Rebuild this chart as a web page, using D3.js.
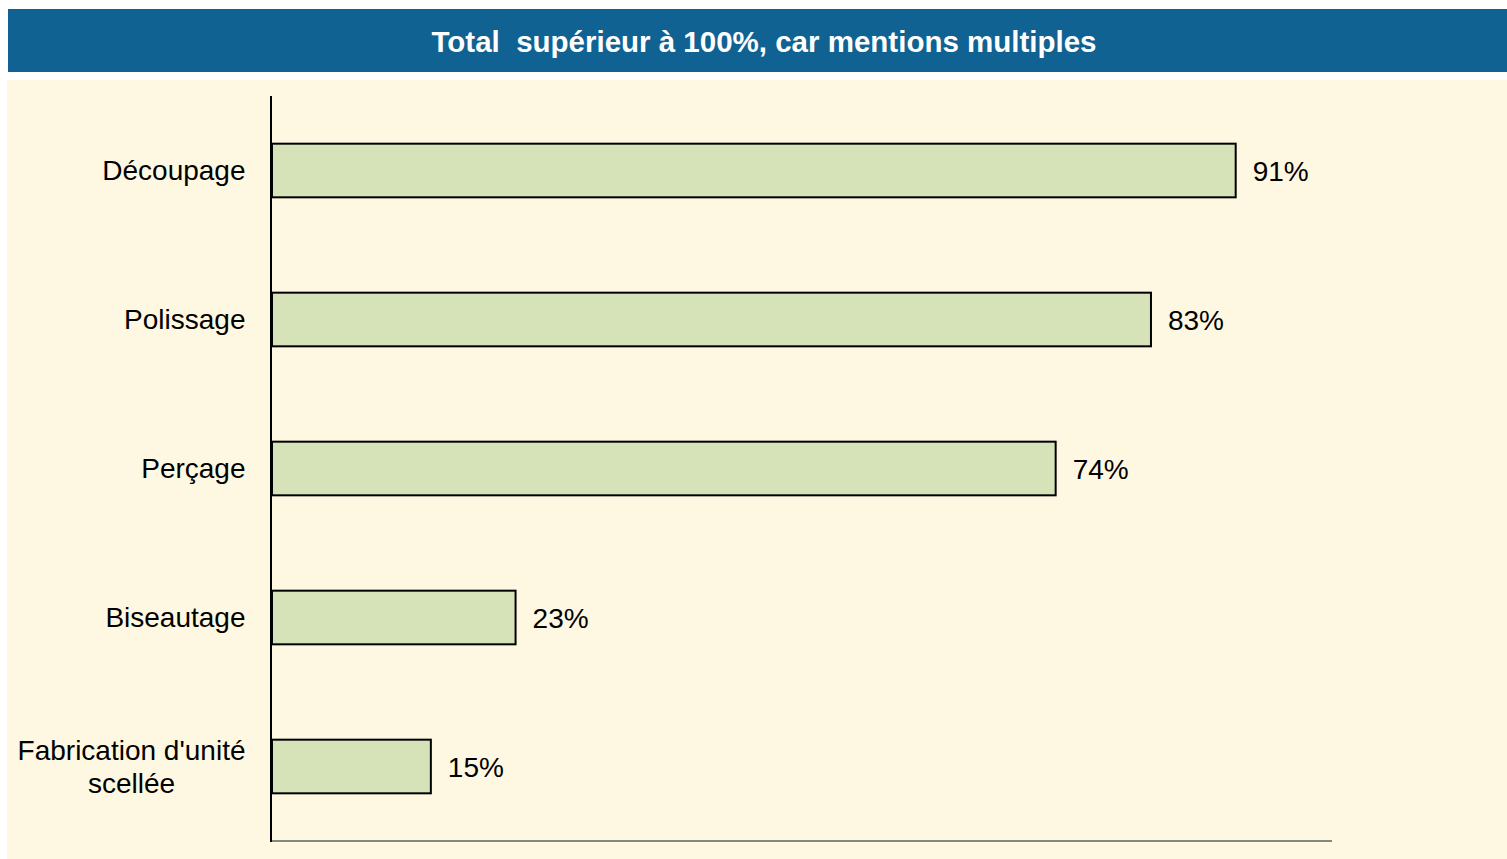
<!DOCTYPE html>
<html>
<head>
<meta http-equiv="Content-Type" content="text/html; charset=utf-8" />
<script src="https://cdn.jsdelivr.net/npm/d3@7"></script>
<title>Total supérieur à 100%</title>
<style>
  body { margin: 0; background: #ffffff; }
  text { font-family: "Liberation Sans", Arial, sans-serif; }
</style>
</head>
<body>
<svg width="1507" height="859" id="mainsvg"></svg>
<script>
  const categories = ["Découpage", "Polissage", "Perçage", "Biseautage", "Fabrication d'unité\nscellée"];
  const values = [91, 83, 74, 23, 15];
  const titleText = "Total  supérieur à 100%, car mentions multiples";

  let svg = d3.select("#mainsvg");

  // header band
  svg.append("rect").attr("x", 8).attr("y", 9).attr("width", 1499).attr("height", 63)
    .attr("fill", "#106293");
  svg.append("text").attr("x", 764).attr("y", 41)
    .attr("text-anchor", "middle").attr("dominant-baseline", "central")
    .attr("font-size", "29.5px").attr("font-weight", "bold").attr("fill", "#ffffff")
    .style("white-space", "pre")
    .text(titleText);

  // panel
  svg.append("rect").attr("x", 7).attr("y", 80).attr("width", 1500).attr("height", 779)
    .attr("fill", "#fef8e2");

  const x = d3.scaleLinear().domain([0, 100]).range([272, 1331]);
  const y = d3.scaleBand().domain(categories).range([96, 841])
    .paddingInner(0.64).paddingOuter(0.32);

  // bars
  svg.selectAll(".bar").data(values).join("rect")
    .attr("class", "bar")
    .attr("x", x(0))
    .attr("y", (d, i) => y(categories[i]))
    .attr("width", d => x(d) - x(0))
    .attr("height", y.bandwidth())
    .attr("fill", "#d6e3b9").attr("stroke", "#000").attr("stroke-width", 2);

  // value labels
  svg.selectAll(".val").data(values).join("text")
    .attr("class", "val")
    .attr("x", d => x(d) + 17)
    .attr("y", (d, i) => y(categories[i]) + y.bandwidth() / 2 + 1)
    .attr("dominant-baseline", "central")
    .attr("font-size", "28px").attr("fill", "#000")
    .text(d => d + "%");

  // axes lines
  svg.append("line").attr("x1", 271).attr("x2", 1332).attr("y1", 841).attr("y2", 841)
    .attr("stroke", "#868686").attr("stroke-width", 2);
  svg.append("line").attr("x1", 271).attr("x2", 271).attr("y1", 96).attr("y2", 842)
    .attr("stroke", "#000").attr("stroke-width", 2);

  // category labels (multi-line centred on their widest line, right edge at 245)
  const lineH = 33;
  categories.forEach(c => {
    const lines = c.split("\n");
    const cy = y(c) + y.bandwidth() / 2;
    const g = svg.append("text").attr("font-size", "28px").attr("fill", "#000")
      .attr("text-anchor", "middle");
    lines.forEach((l, j) => {
      g.append("tspan").attr("y", cy + (j - (lines.length - 1) / 2) * lineH)
        .attr("dominant-baseline", "central").text(l);
    });
    let w = 0;
    g.selectAll("tspan").each(function() { w = Math.max(w, this.getComputedTextLength()); });
    g.selectAll("tspan").attr("x", 245.5 - w / 2);
  });
</script>
</body>
</html>
